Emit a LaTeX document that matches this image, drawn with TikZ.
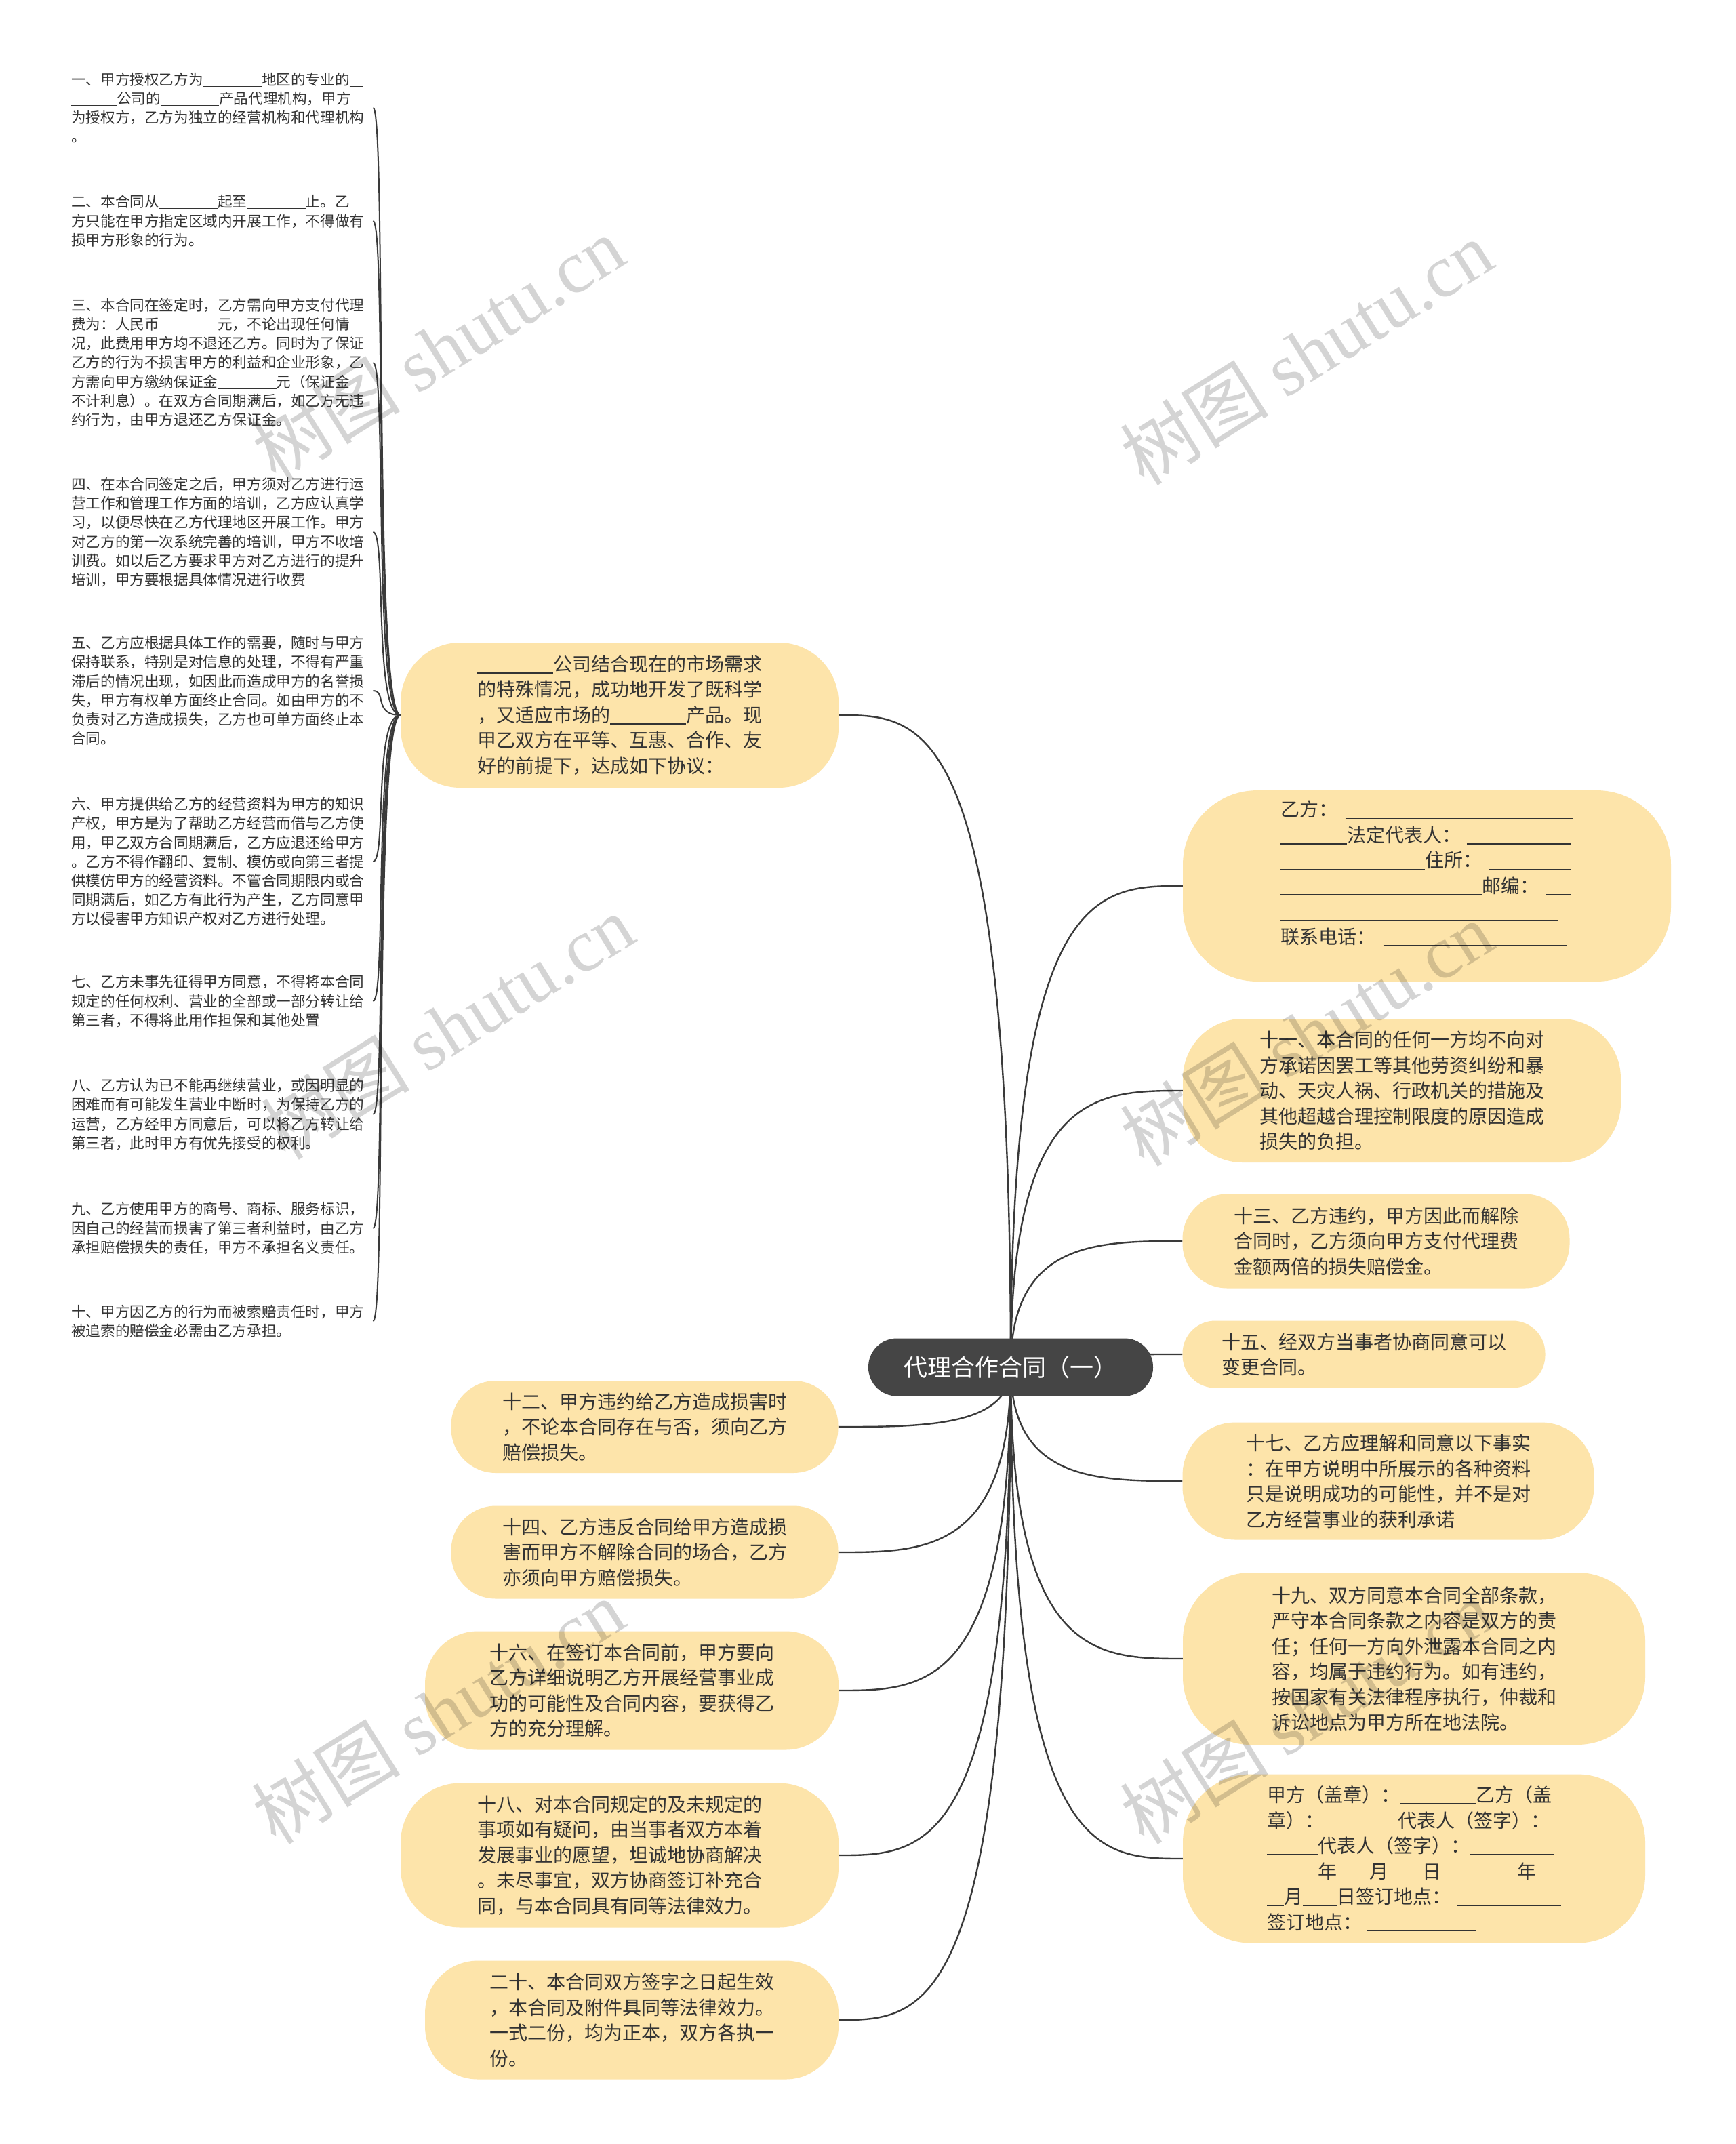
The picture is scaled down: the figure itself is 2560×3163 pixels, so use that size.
\documentclass[tikz,border=0pt]{standalone}
\usepackage{fontspec}
\setmainfont{Noto Sans CJK SC}
\newfontfamily\wmlatin{Liberation Serif}
\newfontfamily\wmcjk{Noto Sans CJK SC}
\usetikzlibrary{calc}
\definecolor{nodefill}{HTML}{FDE4AA}
\definecolor{hubfill}{HTML}{454545}
\definecolor{txt}{HTML}{333333}
\definecolor{lnk}{HTML}{3A3A3A}
\newcommand\blk[1]{\rule[-0.12em]{#1em}{0.055em}}
\pgfdeclarelayer{bgfill}
\pgfdeclarelayer{bglines}
\pgfsetlayers{bgfill,bglines,main}
\newcommand\hubconn[2]{\draw[conn] (#1) .. controls (#1 |- #2) and ($(#1 |- #2)!0.5!(#2)$) .. (#2);}
\newcommand\leafconn[1]{\draw[lconn] (A.west) .. controls ($(A.west)+(-40,0)$) and ($(#1.east)+(25,0)$) .. ($(#1.east)+(5,0)$);}
\begin{document}
\begin{tikzpicture}[x=1pt,y=-1pt,
  box/.style={fill=nodefill, draw=none, inner sep=0pt, align=left, text=txt, font=\fontsize{28}{37.5}\selectfont},
  leaf/.style={anchor=west, inner sep=0pt, text width=440pt, align=left, text=txt, font=\fontsize{21.6}{28.2}\selectfont},
  hub/.style={fill=hubfill, text=white, rounded corners=42pt, minimum width=420pt, minimum height=85pt, inner sep=0pt, font=\fontsize{35}{40}\selectfont},
  conn/.style={draw=lnk, line width=2.4pt},
  lconn/.style={draw=lnk, line width=2pt},
  wm/.style={rotate=32, text=black, text opacity=0.17, inner sep=0pt, font=\fontsize{110}{120}\selectfont}]
\useasboundingbox (0,0) rectangle (2560,3163);
\begin{pgfonlayer}{bgfill}
\fill[white] (0,0) rectangle (2560,3163);
\end{pgfonlayer}

% left leaves
\node[leaf] (L1) at (105,159) {一、甲方授权乙方为\blk{4}地区的专业的\blk{0.9}\\\blk{3.1}公司的\blk{4}产品代理机构，甲方\\为授权方，乙方为独立的经营机构和代理机构\\。};
\node[leaf] (L2) at (105,326) {二、本合同从\blk{4}起至\blk{4}止。乙\\方只能在甲方指定区域内开展工作，不得做有\\损甲方形象的行为。};
\node[leaf] (L3) at (105,535) {三、本合同在签定时，乙方需向甲方支付代理\\费为：人民币\blk{4}元，不论出现任何情\\况，此费用甲方均不退还乙方。同时为了保证\\乙方的行为不损害甲方的利益和企业形象，乙\\方需向甲方缴纳保证金\blk{4}元（保证金\\不计利息）。在双方合同期满后，如乙方无违\\约行为，由甲方退还乙方保证金。};
\node[leaf] (L4) at (105,785) {四、在本合同签定之后，甲方须对乙方进行运\\营工作和管理工作方面的培训，乙方应认真学\\习，以便尽快在乙方代理地区开展工作。甲方\\对乙方的第一次系统完善的培训，甲方不收培\\训费。如以后乙方要求甲方对乙方进行的提升\\培训，甲方要根据具体情况进行收费};
\node[leaf] (L5) at (105,1019) {五、乙方应根据具体工作的需要，随时与甲方\\保持联系，特别是对信息的处理，不得有严重\\滞后的情况出现，如因此而造成甲方的名誉损\\失，甲方有权单方面终止合同。如由甲方的不\\负责对乙方造成损失，乙方也可单方面终止本\\合同。};
\node[leaf] (L6) at (105,1271) {六、甲方提供给乙方的经营资料为甲方的知识\\产权，甲方是为了帮助乙方经营而借与乙方使\\用，甲乙双方合同期满后，乙方应退还给甲方\\。乙方不得作翻印、复制、模仿或向第三者提\\供模仿甲方的经营资料。不管合同期限内或合\\同期满后，如乙方有此行为产生，乙方同意甲\\方以侵害甲方知识产权对乙方进行处理。};
\node[leaf] (L7) at (105,1477) {七、乙方未事先征得甲方同意，不得将本合同\\规定的任何权利、营业的全部或一部分转让给\\第三者，不得将此用作担保和其他处置};
\node[leaf] (L8) at (105,1644) {八、乙方认为已不能再继续营业，或因明显的\\困难而有可能发生营业中断时，为保持乙方的\\运营，乙方经甲方同意后，可以将乙方转让给\\第三者，此时甲方有优先接受的权利。};
\node[leaf] (L9) at (105,1812) {九、乙方使用甲方的商号、商标、服务标识，\\因自己的经营而损害了第三者利益时，由乙方\\承担赔偿损失的责任，甲方不承担名义责任。};
\node[leaf] (L10) at (105,1949) {十、甲方因乙方的行为而被索赔责任时，甲方\\被追索的赔偿金必需由乙方承担。};

% main nodes
\node[box, minimum width=646pt, minimum height=214pt, rounded corners=88pt] (A) at (914,1055) {\blk{4}公司结合现在的市场需求\\的特殊情况，成功地开发了既科学\\，又适应市场的\blk{4}产品。现\\甲乙双方在平等、互惠、合作、友\\好的前提下，达成如下协议：};

\node[box, minimum width=720pt, minimum height=282pt, rounded corners=110pt] (R1) at (2105,1307) {乙方：\hspace{0.4em}\blk{12}\\\blk{3.5}法定代表人：\hspace{0.3em}\blk{5.5}\\\blk{7.6}住所：\hspace{0.4em}\blk{4.3}\\\blk{10.6}邮编：\hspace{0.4em}\blk{1.3}\\\blk{14.6}\\联系电话：\hspace{0.4em}\blk{9.7}\\\blk{4}};
\node[box, minimum width=646pt, minimum height=212pt, rounded corners=88pt] (R2) at (2068,1609) {十一、本合同的任何一方均不向对\\方承诺因罢工等其他劳资纠纷和暴\\动、天灾人祸、行政机关的措施及\\其他超越合理控制限度的原因造成\\损失的负担。};
\node[box, minimum width=571pt, minimum height=139pt, rounded corners=66pt] (R3) at (2030,1831) {十三、乙方违约，甲方因此而解除\\合同时，乙方须向甲方支付代理费\\金额两倍的损失赔偿金。};
\node[box, minimum width=535pt, minimum height=99pt, rounded corners=48pt] (R4) at (2012,1998) {十五、经双方当事者协商同意可以\\变更合同。};
\node[box, minimum width=607pt, minimum height=173pt, rounded corners=78pt] (R5) at (2048,2185) {十七、乙方应理解和同意以下事实\\：在甲方说明中所展示的各种资料\\只是说明成功的可能性，并不是对\\乙方经营事业的获利承诺};
\node[box, minimum width=682pt, minimum height=254pt, rounded corners=100pt] (R6) at (2086,2447) {十九、双方同意本合同全部条款，\\严守本合同条款之内容是双方的责\\任；任何一方向外泄露本合同之内\\容，均属于违约行为。如有违约，\\按国家有关法律程序执行，仲裁和\\诉讼地点为甲方所在地法院。};
\node[box, minimum width=682pt, minimum height=249pt, rounded corners=100pt] (R7) at (2086,2742) {甲方（盖章）：\blk{4}乙方（盖\\章）：\blk{3.9}代表人（签字）：\blk{0.4}\\\blk{2.7}代表人（签字）：\blk{4.4}\\\blk{2.7}年\blk{1.7}月\blk{1.8}日\blk{4}年\blk{0.9}\\\blk{0.9}月\blk{1.8}日签订地点：\hspace{0.3em}\blk{5.5}\\签订地点：\hspace{0.3em}\blk{5.7}};

\node[box, minimum width=571pt, minimum height=136pt, rounded corners=66pt] (B12) at (951,2105) {十二、甲方违约给乙方造成损害时\\，不论本合同存在与否，须向乙方\\赔偿损失。};
\node[box, minimum width=571pt, minimum height=137pt, rounded corners=66pt] (B14) at (951,2290) {十四、乙方违反合同给甲方造成损\\害而甲方不解除合同的场合，乙方\\亦须向甲方赔偿损失。};
\node[box, minimum width=610pt, minimum height=175pt, rounded corners=78pt] (B16) at (932,2494) {十六、在签订本合同前，甲方要向\\乙方详细说明乙方开展经营事业成\\功的可能性及合同内容，要获得乙\\方的充分理解。};
\node[box, minimum width=646pt, minimum height=213pt, rounded corners=88pt] (B18) at (914,2737) {十八、对本合同规定的及未规定的\\事项如有疑问，由当事者双方本着\\发展事业的愿望，坦诚地协商解决\\。未尽事宜，双方协商签订补充合\\同，与本合同具有同等法律效力。};
\node[box, minimum width=610pt, minimum height=175pt, rounded corners=78pt] (B20) at (932,2980) {二十、本合同双方签字之日起生效\\，本合同及附件具同等法律效力。\\一式二份，均为正本，双方各执一\\份。};

\node[hub] (c) at (1491,2017) {代理合作合同（一）};

\begin{pgfonlayer}{bglines}
\hubconn{c.center}{A.east}
\hubconn{c.center}{R1.west}
\hubconn{c.center}{R2.west}
\hubconn{c.center}{R3.west}
\hubconn{c.center}{R4.west}
\hubconn{c.center}{R5.west}
\hubconn{c.center}{R6.west}
\hubconn{c.center}{R7.west}
\hubconn{c.center}{B12.east}
\hubconn{c.center}{B14.east}
\hubconn{c.center}{B16.east}
\hubconn{c.center}{B18.east}
\hubconn{c.center}{B20.east}
\leafconn{L1}
\leafconn{L2}
\leafconn{L3}
\leafconn{L4}
\leafconn{L5}
\leafconn{L6}
\leafconn{L7}
\leafconn{L8}
\leafconn{L9}
\leafconn{L10}
\end{pgfonlayer}

% watermarks
\node[wm] (w1) at (646,514) {{\wmcjk 树图} {\wmlatin shutu.cn}};
\node[wm] (w2) at (1927,520) {{\wmcjk 树图} {\wmlatin shutu.cn}};
\node[wm] (w3) at (660,1515) {{\wmcjk 树图} {\wmlatin shutu.cn}};
\node[wm] (w4) at (1927,1525) {{\wmcjk 树图} {\wmlatin shutu.cn}};
\node[wm] (w5) at (646,2525) {{\wmcjk 树图} {\wmlatin shutu.cn}};
\node[wm] (w6) at (1927,2525) {{\wmcjk 树图} {\wmlatin shutu.cn}};
\end{tikzpicture}
\end{document}
